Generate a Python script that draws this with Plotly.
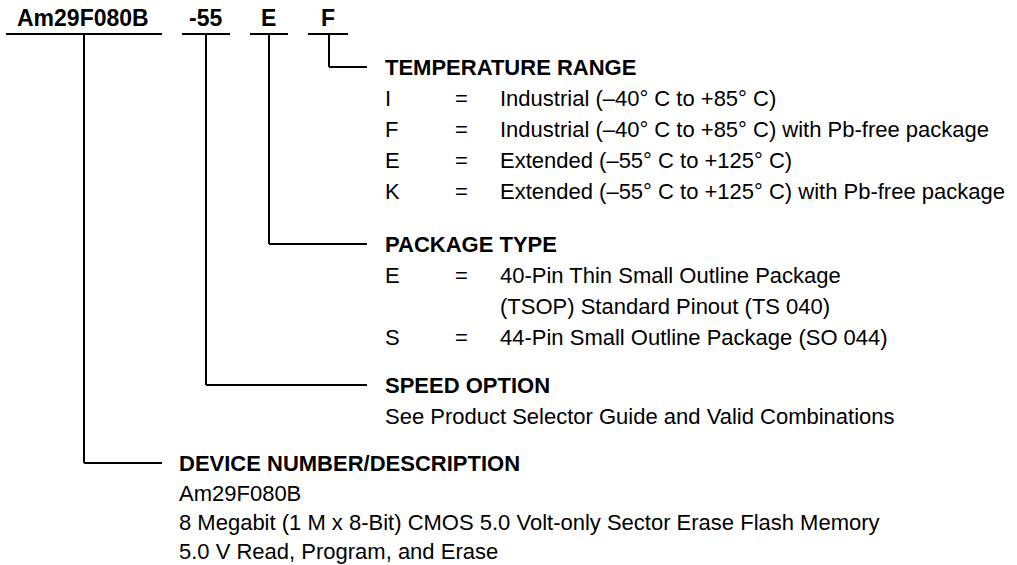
import plotly.graph_objects as go

# ---- content ----
part_fields = ["Am29F080B", "-55", "E", "F"]

temp_title = "TEMPERATURE RANGE"
temp_codes = ["I", "F", "E", "K"]
temp_desc = [
    "Industrial (–40° C to +85° C)",
    "Industrial (–40° C to +85° C) with Pb-free package",
    "Extended (–55° C to +125° C)",
    "Extended (–55° C to +125° C) with Pb-free package",
]

pkg_title = "PACKAGE TYPE"
pkg_codes = ["E", "", "S"]
pkg_desc = [
    "40-Pin Thin Small Outline Package",
    "(TSOP) Standard Pinout (TS 040)",
    "44-Pin Small Outline Package (SO 044)",
]

speed_title = "SPEED OPTION"
speed_desc = ["See Product Selector Guide and Valid Combinations"]

device_title = "DEVICE NUMBER/DESCRIPTION"
device_desc = [
    "Am29F080B",
    "8 Megabit (1 M x 8-Bit) CMOS 5.0 Volt-only Sector Erase Flash Memory",
    "5.0 V Read, Program, and Erase",
]

# ---- layout geometry ----
W, H = 1017, 565
FONT = "Liberation Sans, Arial, Helvetica, sans-serif"
FS = 22
LW = 2
PITCH = 31

field_centers = [83, 205, 268, 328]
field_spans = [(6, 162), (182, 230), (250, 288), (308, 348)]
drop_x = [84, 206, 269, 329]
UNDER_Y = 34
LABEL_Y = 18

HEAD_X = 383
EQ_X = 453
DESC_X = 498
LINE_END = 367

temp_y = 67
pkg_y = 244
speed_y = 385
dev_y = 463
dev_text_x = 177
dev_line_end = 162

fig = go.Figure()
shapes = []
ann = []


def line(x0, y0, x1, y1):
    shapes.append(dict(type="line", x0=x0, y0=y0, x1=x1, y1=y1, xref="x", yref="y",
                       line=dict(color="black", width=LW)))


def text(x, y, s, bold=False, anchor="left", size=FS):
    ann.append(dict(x=x, y=y, xref="x", yref="y", text=(f"<b>{s}</b>" if bold else s),
                    showarrow=False, xanchor=anchor, yanchor="middle",
                    font=dict(family=FONT, size=size, color="black")))


# top part number fields
for name, cx, (a, b) in zip(part_fields, field_centers, field_spans):
    text(cx, LABEL_Y, name, bold=True, anchor="center", size=23)
    line(a, UNDER_Y, b, UNDER_Y)

# connectors (field -> section heading)
line(drop_x[3], UNDER_Y, drop_x[3], temp_y)
line(drop_x[3], temp_y, LINE_END, temp_y)
line(drop_x[2], UNDER_Y, drop_x[2], pkg_y)
line(drop_x[2], pkg_y, LINE_END, pkg_y)
line(drop_x[1], UNDER_Y, drop_x[1], speed_y)
line(drop_x[1], speed_y, LINE_END, speed_y)
line(drop_x[0], UNDER_Y, drop_x[0], dev_y)
line(drop_x[0], dev_y, dev_line_end, dev_y)

# temperature section
text(HEAD_X, temp_y, temp_title, bold=True)
for i, (c, d) in enumerate(zip(temp_codes, temp_desc)):
    y = temp_y + PITCH * (i + 1)
    text(HEAD_X, y, c)
    text(EQ_X, y, "=")
    text(DESC_X, y, d)

# package section
text(HEAD_X, pkg_y, pkg_title, bold=True)
for i, (c, d) in enumerate(zip(pkg_codes, pkg_desc)):
    y = pkg_y + PITCH * (i + 1)
    if c:
        text(HEAD_X, y, c)
        text(EQ_X, y, "=")
    text(DESC_X, y, d)

# speed section
text(HEAD_X, speed_y, speed_title, bold=True)
for i, d in enumerate(speed_desc):
    text(HEAD_X, speed_y + PITCH * (i + 1), d)

# device section
text(dev_text_x, dev_y, device_title, bold=True)
for i, d in enumerate(device_desc):
    text(dev_text_x, dev_y + 30 + 29 * i, d)

fig.update_layout(
    width=W, height=H,
    margin=dict(l=0, r=0, t=0, b=0),
    paper_bgcolor="white", plot_bgcolor="white",
    xaxis=dict(range=[0, W], visible=False, fixedrange=True),
    yaxis=dict(range=[H, 0], visible=False, fixedrange=True),
    shapes=shapes, annotations=ann, showlegend=False,
)

fig.write_html(
    "out.html",
    config={"displayModeBar": False, "staticPlot": True},
    post_script="document.body.style.margin='0';document.body.style.overflow='hidden';",
)
